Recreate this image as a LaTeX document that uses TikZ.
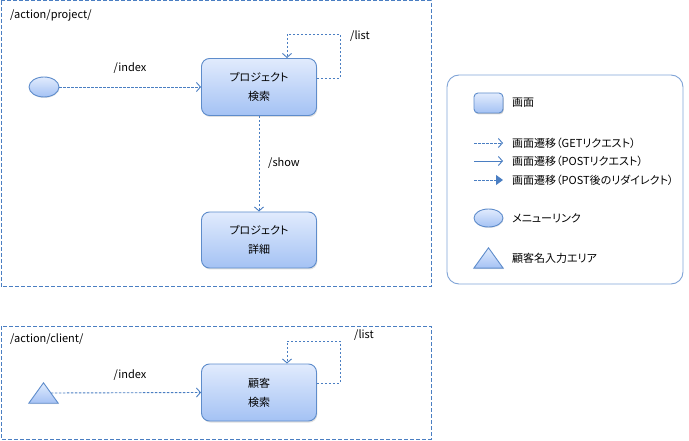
\documentclass[tikz,border=0pt]{standalone}
\usepackage{fontspec}
\setmainfont[RawFeature=+palt]{Noto Sans CJK JP}
\usetikzlibrary{shapes.geometric,arrows.meta,shadows,calc}
\definecolor{bord}{HTML}{4A7EC2}
\definecolor{gtop}{HTML}{E1EBFD}
\definecolor{gbot}{HTML}{A4C2F4}
\definecolor{nbord}{HTML}{5E8CCB}
\definecolor{lbord}{HTML}{7FA3D6}
\newcommand{\fsz}{\fontsize{11}{19}\selectfont}
\begin{document}
\begin{tikzpicture}[x=1pt,y=-1pt,
  screen/.style={rectangle, rounded corners=8, draw=nbord, line width=0.9pt,
    top color=gtop, bottom color=gbot, minimum width=115, minimum height=57,
    align=center, font=\fsz,
    drop shadow={opacity=0.25, shadow xshift=0.8pt, shadow yshift=-1.5pt}},
  menu/.style={ellipse, draw=nbord, line width=0.9pt, top color=gtop, bottom color=gbot,
    minimum width=30, minimum height=20, inner sep=0pt,
    drop shadow={opacity=0.2, shadow xshift=0.5pt, shadow yshift=-1pt}},
  area/.style={draw=none, minimum width=29, minimum height=20, inner sep=0pt},
  container/.style={draw=bord, line width=1pt, dash pattern=on 4pt off 2pt},
  lbl/.style={font=\fsz, inner sep=0pt},
  getarrow/.style={draw=bord, line width=0.9pt, dash pattern=on 2.5pt off 1.5pt,
    -{Straight Barb[length=4pt,width=9pt]}},
  postarrow/.style={draw=bord, line width=0.9pt, -{Straight Barb[length=4pt,width=9pt]}},
  redirarrow/.style={draw=bord, line width=0.9pt, dash pattern=on 2.5pt off 1.5pt,
    -{Triangle[length=7pt,width=10pt]}},
]
\useasboundingbox (0,0) rectangle (689,441);

% containers
\draw[container] (1,1) rectangle (431,287);
\draw[container] (1,326) rectangle (431,439);
\node[lbl, anchor=west] (tproj) at (10,15) {/action/project/};
\node[lbl, anchor=west] (tcli) at (10,339) {/action/client/};

% project section
\node[menu] (ell) at (44,87) {};
\node[screen] (ps) at (259,87) {プロジェクト\\検索};
\node[screen, minimum height=56] (pd) at (259,240) {プロジェクト\\詳細};
\coordinate (psl) at (340,34);
\draw[getarrow] (ell.east) -- (ps.west);
\draw[getarrow] ([yshift=9pt]ps.east) -| (psl) -| ([xshift=28pt]ps.north);
\draw[getarrow] (ps.south) -- (pd.north);
\node[lbl] (lidx1) at (130,68) {/index};
\node[lbl, anchor=west] (llist1) at (350,36) {/list};
\node[lbl, anchor=west] (lshow) at (268,163) {/show};

% client section
\node[area] (tri) at (43.5,393) {};
\shade[draw=nbord, line width=0.9pt, top color=gtop, bottom color=gbot,
  drop shadow={opacity=0.2, shadow xshift=0.5pt, shadow yshift=-1pt}]
  (tri.south west) -- (tri.north) -- (tri.south east) -- cycle;
\node[screen] (cs) at (259,392.5) {顧客\\検索};
\coordinate (csl) at (340,341);
\draw[getarrow] ($(tri.north)!0.5!(tri.south east)$) -- (cs.west);
\draw[getarrow] ([yshift=9.5pt]cs.east) -| (csl) -| ([xshift=28pt]cs.north);
\node[lbl] (lidx2) at (130,375) {/index};
\node[lbl, anchor=west] (llist2) at (354,335) {/list};

% legend
\draw[draw=lbord, line width=0.9pt, rounded corners=12] (447,75) rectangle (683,284);
\node[screen, rounded corners=4, minimum width=29, minimum height=20,
  drop shadow={opacity=0.25, shadow xshift=0.5pt, shadow yshift=-1pt}] (lscr) at (488.5,103) {};
\node[lbl, anchor=west] (tscr) at (512,103) {画面};
\coordinate (g1) at (474,143); \coordinate (g2) at (503,143);
\coordinate (p1) at (474,161); \coordinate (p2) at (503,161);
\coordinate (r1) at (474,180); \coordinate (r2) at (503,180);
\draw[getarrow] (g1) -- (g2);
\draw[postarrow] (p1) -- (p2);
\draw[redirarrow] (r1) -- (r2);
\node[lbl, anchor=west] (tget) at (512,143) {画面遷移（GETリクエスト）};
\node[lbl, anchor=west] (tpost) at (512,161) {画面遷移（POSTリクエスト）};
\node[lbl, anchor=west] (tredir) at (512,180) {画面遷移（POST後のリダイレクト）};
\node[menu, minimum width=29, minimum height=18] (lell) at (488.5,218) {};
\node[lbl, anchor=west] (tmenu) at (512,218) {メニューリンク};
\node[area] (ltri) at (488.5,258) {};
\shade[draw=nbord, line width=0.9pt, top color=gtop, bottom color=gbot,
  drop shadow={opacity=0.2, shadow xshift=0.5pt, shadow yshift=-1pt}]
  (ltri.south west) -- (ltri.north) -- (ltri.south east) -- cycle;
\node[lbl, anchor=west] (tarea) at (512,258) {顧客名入力エリア};
\end{tikzpicture}
\end{document}
